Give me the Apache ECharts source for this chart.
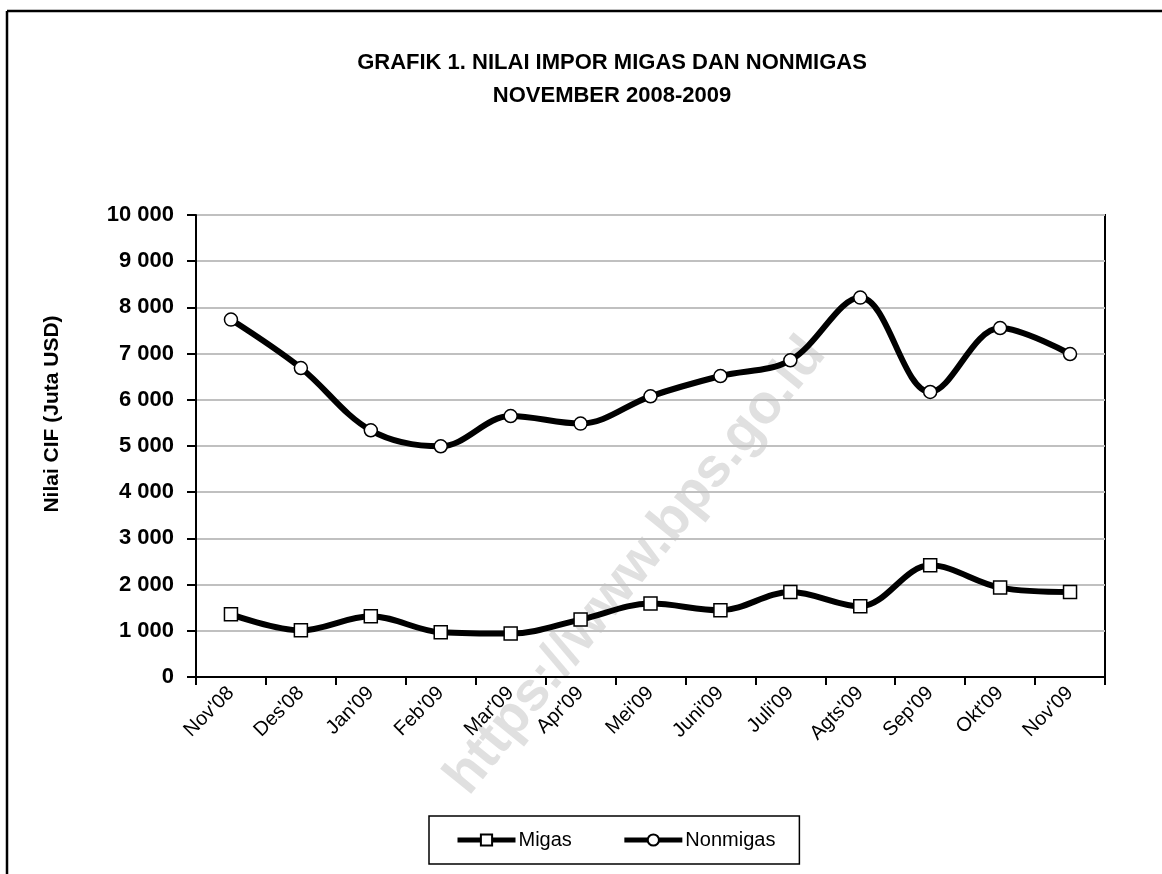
<!DOCTYPE html>
<html>
<head>
<meta charset="utf-8">
<script src="https://cdn.jsdelivr.net/npm/echarts@6/dist/echarts.min.js"></script>
<style>
html,body{margin:0;padding:0;background:#fff;}
#chart{width:1162px;height:874px;}
</style>
</head>
<body>
<div id="chart"></div>
<script>
const categories = ["Nov'08","Des'08","Jan'09","Feb'09","Mar'09","Apr'09","Mei'09","Juni'09","Juli'09","Agts'09","Sep'09","Okt'09","Nov'09"];
const migas = [1357, 1011, 1314, 968, 939, 1242, 1589, 1444, 1840, 1530, 2418, 1935, 1840];
const nonmigas = [7736, 6688, 5340, 4994, 5649, 5485, 6076, 6515, 6855, 8212, 6169, 7554, 6991];
const titleLines = ["GRAFIK 1. NILAI IMPOR MIGAS DAN NONMIGAS", "NOVEMBER 2008-2009"];
const yAxisName = "Nilai CIF (Juta USD)";
const watermark = "https://www.bps.go.id";

const FONT = "'Liberation Sans', Arial, sans-serif";
const chart = echarts.init(document.getElementById('chart'), null, {renderer: 'canvas'});

function fmt(v) { return String(v).replace(/\B(?=(\d{3})+(?!\d))/g, ' '); }

const option = {
  backgroundColor: '#fff',
  animation: false,
  title: {
    text: titleLines.join('\n'),
    left: 612,
    top: 46,
    textAlign: 'center',
    padding: 0,
    textStyle: {fontFamily: FONT, fontSize: 22, fontWeight: 'bold', color: '#000', lineHeight: 33}
  },
  graphic: [
    {type: 'line', shape: {x1: 7, y1: 11, x2: 1162, y2: 11}, style: {stroke: '#000', lineWidth: 2.5}, z: 100},
    {type: 'line', shape: {x1: 7, y1: 11, x2: 7, y2: 874}, style: {stroke: '#000', lineWidth: 2.5}, z: 100},
    {type: 'text', x: 52, y: 414, rotation: Math.PI / 2,
     style: {text: yAxisName, fontFamily: FONT, fontSize: 21, fontWeight: 'bold', fill: '#000', align: 'center', verticalAlign: 'middle'}},
    {type: 'text', x: 636, y: 566, rotation: 51 * Math.PI / 180, z: -1,
     style: {text: watermark, fontFamily: FONT, fontSize: 55, fontWeight: 'bold', fill: '#e0e0e0', align: 'center', verticalAlign: 'middle'}}
  ],
  grid: {left: 196, right: 57, top: 215, bottom: 197, show: true, borderColor: '#000', borderWidth: 2, backgroundColor: 'transparent'},
  legend: {
    left: 429, top: 816,
    padding: [14, 24, 14, 26],
    itemWidth: 58, itemHeight: 14, itemGap: 50,
    borderColor: '#000', borderWidth: 1.5,
    lineStyle: {width: 5, color: '#000'},
    textStyle: {fontFamily: FONT, fontSize: 20, color: '#000', padding: [0, 0, 0, -2]},
    data: ['Migas', 'Nonmigas']
  },
  xAxis: {
    type: 'category',
    data: categories,
    boundaryGap: true,
    axisLine: {lineStyle: {color: '#000', width: 2}},
    axisTick: {show: true, length: 8, lineStyle: {color: '#000', width: 2}},
    axisLabel: {rotate: 45, margin: 13, fontFamily: FONT, fontSize: 20, color: '#000', interval: 0},
    splitLine: {show: false}
  },
  yAxis: {
    type: 'value',
    min: 0, max: 10000, interval: 1000,
    axisLine: {show: true, lineStyle: {color: '#000', width: 2}},
    axisTick: {show: true, length: 9, lineStyle: {color: '#000', width: 2}},
    axisLabel: {margin: 22, fontFamily: FONT, fontSize: 22, fontWeight: 'bold', color: '#000', formatter: fmt},
    splitLine: {show: true, lineStyle: {color: '#c0c0c0', width: 2}}
  },
  series: [
    {
      name: 'Migas', type: 'line', data: migas, smooth: 0.35,
      symbol: 'rect', symbolSize: 13, showSymbol: true,
      lineStyle: {color: '#000', width: 6},
      itemStyle: {color: '#fff', borderColor: '#000', borderWidth: 1.5},
      z: 3
    },
    {
      name: 'Nonmigas', type: 'line', data: nonmigas, smooth: 0.35,
      symbol: 'circle', symbolSize: 13, showSymbol: true,
      lineStyle: {color: '#000', width: 6},
      itemStyle: {color: '#fff', borderColor: '#000', borderWidth: 1.5},
      z: 3
    }
  ]
};
chart.setOption(option);
</script>
</body>
</html>
